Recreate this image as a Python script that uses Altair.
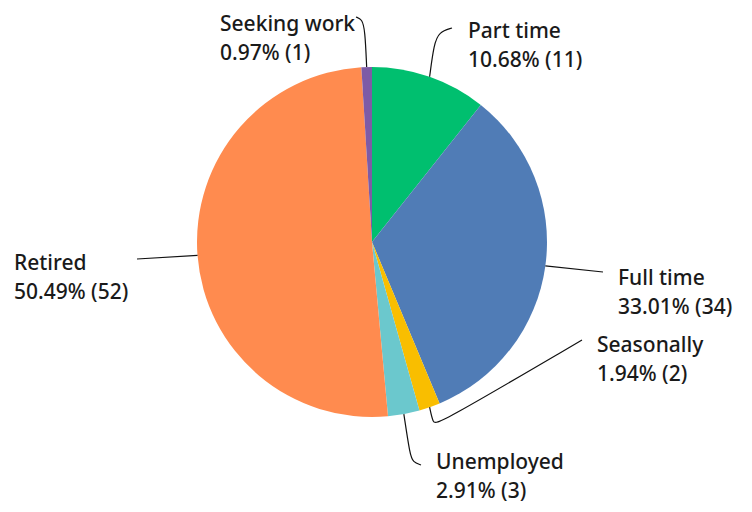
import math
import altair as alt
import pandas as pd

# ---- data ----
categories = ["Part time", "Full time", "Seasonally", "Unemployed", "Retired", "Seeking work"]
counts = [11, 34, 2, 3, 52, 1]
colors = ["#00BF6F", "#507CB6", "#F9BE00", "#6BC8CD", "#FF8B4F", "#7D5BA6"]

# ---- layout (pixels inside the view) ----
CX, CY, R = 364, 234, 175
label_pos = {  # left x, first-line baseline y
    "Part time": (460, 30),
    "Full time": (610, 277),
    "Seasonally": (589, 344),
    "Unemployed": (428, 461),
    "Retired": (6, 262),
    "Seeking work": (212, 23),
}
elbows = {  # extra points of the leader line after the slice edge
    "Part time": [(426, 36), (431, 24), (444, 20)],
    "Full time": [(595, 264)],
    "Seasonally": [(425, 415), (429, 417), (574, 332)],
    "Unemployed": [(402, 447), (405, 454), (413, 457)],
    "Retired": [(129, 251)],
    "Seeking work": [(357, 22), (354, 11), (348, 9)],
}

total = sum(counts)
df = pd.DataFrame({"category": categories, "count": counts, "order": range(len(categories))})

# leader lines, starting at the middle of each slice's edge
rows = []
cum = 0
for cat, c in zip(categories, counts):
    mid = (cum + c / 2) / total * 2 * math.pi
    cum += c
    pts = [(CX + R * math.sin(mid), CY - R * math.cos(mid))] + elbows[cat]
    for i, (px, py) in enumerate(pts):
        rows.append({"category": cat, "i": i, "px": px, "py": py})
lines_df = pd.DataFrame(rows)

lab_rows = []
for cat, c in zip(categories, counts):
    x, y = label_pos[cat]
    lab_rows.append({"category": cat, "line1": cat,
                     "line2": f"{c / total * 100:.2f}% ({c})", "lx": x, "ly": y})
lab_df = pd.DataFrame(lab_rows)

pie = alt.Chart(df).mark_arc(outerRadius=R).encode(
    theta=alt.Theta("count:Q", stack=True),
    order=alt.Order("order:Q"),
    color=alt.Color("category:N", scale=alt.Scale(domain=categories, range=colors), legend=None),
    x=alt.value(CX),
    y=alt.value(CY),
)

leaders = alt.Chart(lines_df).mark_line(color="#111111", strokeWidth=1.2, interpolate="basis").encode(
    x=alt.X("px:Q", scale=None),
    y=alt.Y("py:Q", scale=None),
    detail="category:N",
    order="i:Q",
)

FONT = "Noto Sans"
TXT = dict(align="left", baseline="alphabetic", font=FONT, fontSize=21,
           fontWeight=500, color="#1a1a1a")
t1 = alt.Chart(lab_df).mark_text(**TXT).encode(
    x=alt.X("lx:Q", scale=None), y=alt.Y("ly:Q", scale=None), text="line1:N")
t2 = alt.Chart(lab_df).mark_text(dy=29, **TXT).encode(
    x=alt.X("lx:Q", scale=None), y=alt.Y("ly:Q", scale=None), text="line2:N")

chart = alt.layer(pie, leaders, t1, t2).properties(
    width=734, height=496, padding=0, autosize="none"
).configure_view(stroke=None)

chart.save("out.html", embed_options={"renderer": "svg", "actions": False})
